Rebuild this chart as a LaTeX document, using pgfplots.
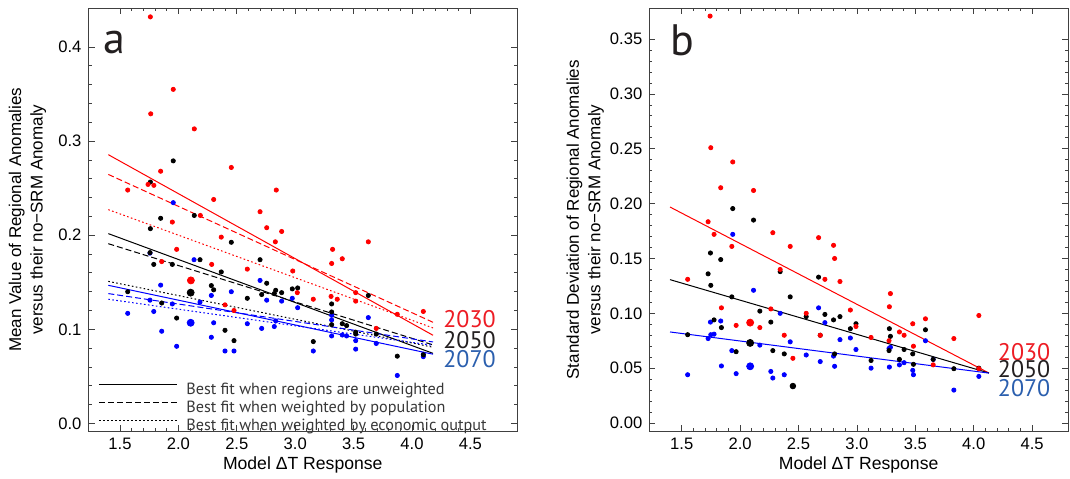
\documentclass[border=0pt]{standalone}
\usepackage{fontspec}
\setmainfont{Liberation Sans}
\newfontfamily\myriad{PT Sans}
\usepackage{pgfplots}
\pgfplotsset{compat=1.18}

\definecolor{yrred}{RGB}{237,28,36}
\definecolor{yrblack}{RGB}{35,31,32}
\definecolor{yrblue}{RGB}{43,95,174}

\tikzset{
  dsh/.style={dash pattern=on 3pt off 1.5pt},
  dtt/.style={dash pattern=on 0.8pt off 1.2pt},
  yr/.style={anchor=west, inner sep=0pt, font=\myriad\fontsize{12}{12}\selectfont},
}
\pgfplotsset{
  panel/.style={
    scale only axis, height=211.3pt,
    xtick={1.5,2,2.5,3,3.5,4,4.5},
    minor x tick num=4, minor y tick num=4,
    scaled x ticks=false, scaled y ticks=false,
    tick align=inside,
    major tick length=3pt, minor tick length=1.5pt,
    axis line style={black!75, line width=0.5pt},
    every tick/.style={black!75, line width=0.4pt},
    tick label style={font=\fontsize{8.3}{10}\selectfont},
    /pgf/number format/assume math mode=true,
    xticklabel style={/pgf/number format/.cd, fixed, fixed zerofill, precision=1},
    xlabel={Model ΔT Response},
    xlabel style={at={(axis description cs:0.5,-0.0805)}, anchor=center, font=\fontsize{8.8}{10}\selectfont},
    ylabel style={anchor=center, align=center, font=\fontsize{8.5}{10.8}\selectfont},
    clip=false,
  },
  rdot/.style={only marks, mark=*, mark size=1.05pt, color=red, mark options={draw=none}, forget plot},
  kdot/.style={only marks, mark=*, mark size=1.05pt, color=black, mark options={draw=none}, forget plot},
  bdot/.style={only marks, mark=*, mark size=1.05pt, color=blue, mark options={draw=none}, forget plot},
  fit/.style={line width=0.5pt, forget plot},
}

\begin{document}
\begin{tikzpicture}
% ---- panel a ----
\begin{axis}[panel, at={(44.25pt,23.5pt)}, anchor=south west,
    width=214.25pt,
    xmin=1.2303, xmax=4.899,
    ymin=-0.008, ymax=0.441,
    ytick={0,0.1,0.2,0.3,0.4},
    yticklabel style={/pgf/number format/.cd, fixed, fixed zerofill, precision=1},
    ylabel={Mean Value of Regional Anomalies\\versus their no−SRM Anomaly},
    ylabel style={at={(axis description cs:-0.1424,0.5)}},
    legend style={draw=none, fill=none, at={(rel axis cs:0.0222,0.1152)}, anchor=north west,
        font=\myriad\fontsize{8.1}{9}\selectfont, text=black!78, row sep=1.2pt, column sep=4.5pt,
        inner sep=0pt, nodes={inner sep=0pt, text height=6pt, text depth=1.8pt}},
    legend cell align=left,
    legend image code/.code={\draw[#1] (0pt,2.8pt) -- (39pt,2.8pt);},
]
\addlegendimage{black, line width=0.5pt}
\addlegendentry{Best fit when regions are unweighted}
\addlegendimage{black, line width=0.5pt, dsh}
\addlegendentry{Best fit when weighted by population}
\addlegendimage{black, line width=0.5pt, dtt}
\addlegendentry{Best fit when weighted by economic output}

\addplot[bdot] coordinates {
(1.956,0.2346) (1.757,0.181) (2.134,0.174) (1.848,0.147) (1.757,0.131) (1.789,0.119)
(1.948,0.127) (2.185,0.129) (1.566,0.117) (2.282,0.136) (2.453,0.140) (2.699,0.152)
(2.756,0.131) (2.884,0.130) (2.975,0.133) (3.021,0.123) (2.302,0.107) (1.857,0.098)
(1.985,0.082) (2.282,0.0916) (2.399,0.077) (2.476,0.077) (2.59,0.106) (2.713,0.101)
(2.821,0.103) (2.833,0.109) (3.155,0.077) (3.312,0.115) (3.312,0.110) (3.312,0.093)
(3.403,0.094) (3.44,0.093) (3.518,0.088) (3.518,0.079) (3.626,0.1125) (3.694,0.085)
(3.874,0.051) (4.097,0.071) (4.097,0.0735)};
\addplot[bdot, mark size=1.75pt] coordinates {(2.105,0.107)};

\addplot[kdot] coordinates {
(1.76,0.2565) (1.956,0.279) (1.848,0.218) (2.136,0.221) (1.76,0.207) (2.453,0.1925)
(1.757,0.1815) (1.789,0.169) (1.948,0.169) (2.185,0.174) (2.699,0.174) (2.367,0.161)
(2.282,0.1465) (2.302,0.142) (2.59,0.133) (2.713,0.137) (2.756,0.149) (2.833,0.1415)
(2.821,0.138) (2.884,0.139) (2.975,0.143) (3.021,0.144) (1.566,0.140) (1.857,0.128)
(1.985,0.112) (2.399,0.099) (2.476,0.088) (3.155,0.087) (3.312,0.127) (3.312,0.1185)
(3.312,0.105) (3.403,0.106) (3.44,0.104) (3.518,0.097) (3.518,0.095) (3.626,0.136)
(3.694,0.095) (3.874,0.0715) (4.097,0.073)};
\addplot[kdot, mark size=1.75pt] coordinates {(2.105,0.139)};

\addplot[rdot] coordinates {
(1.76,0.432) (1.956,0.355) (1.763,0.329) (2.136,0.313) (1.848,0.268) (2.453,0.272)
(1.74,0.254) (1.79,0.253) (1.566,0.248) (2.302,0.238) (2.838,0.248) (2.699,0.225)
(2.188,0.221) (1.948,0.214) (2.756,0.208) (2.884,0.204) (2.83,0.193) (1.985,0.185)
(2.367,0.198) (3.626,0.193) (3.32,0.185) (3.403,0.175) (1.857,0.172) (2.285,0.169)
(3.312,0.170) (2.59,0.164) (2.979,0.162) (3.018,0.139) (3.518,0.139) (3.155,0.132)
(3.307,0.135) (3.36,0.132) (3.518,0.130) (2.399,0.126) (2.476,0.120) (3.694,0.101)
(3.874,0.116) (4.097,0.119)};
\addplot[rdot, mark size=1.75pt] coordinates {(2.107,0.152)};

% fits
\addplot[fit, red] coordinates {(1.4,0.2856) (4.18,0.0937)};
\addplot[fit, red, dsh] coordinates {(1.4,0.2646) (4.18,0.1075)};
\addplot[fit, red, dtt] coordinates {(1.4,0.2272) (4.18,0.1015)};
\addplot[fit, black] coordinates {(1.4,0.2017) (4.18,0.0745)};
\addplot[fit, black, dsh] coordinates {(1.4,0.191) (4.18,0.0835)};
\addplot[fit, black, dtt] coordinates {(1.4,0.151) (4.18,0.081)};
\addplot[fit, blue] coordinates {(1.4,0.1468) (4.18,0.0736)};
\addplot[fit, blue, dsh] coordinates {(1.4,0.138) (4.18,0.0866)};
\addplot[fit, blue, dtt] coordinates {(1.4,0.132) (4.18,0.083)};

\node[anchor=base west, inner sep=0pt, font=\myriad\fontsize{22}{22}\selectfont, text=yrblack] at (axis cs:1.354,0.393) {a};
\node[yr, text=yrred] at (axis cs:4.265,0.1107) {2030};
\node[yr, text=yrblack] at (axis cs:4.265,0.0884) {2050};
\node[yr, text=yrblue] at (axis cs:4.265,0.0683) {2070};
\end{axis}

% ---- panel b ----
\begin{axis}[panel, at={(324.65pt,23.5pt)}, anchor=south west,
    width=209.35pt,
    xmin=1.2226, xmax=4.8074,
    ymin=-0.0073, ymax=0.378,
    ytick={0,0.05,0.1,0.15,0.2,0.25,0.3,0.35},
    yticklabel style={/pgf/number format/.cd, fixed, fixed zerofill, precision=2},
    ylabel={Standard Deviation of Regional Anomalies\\versus their no−SRM Anomaly},
    ylabel style={at={(axis description cs:-0.153,0.5)}},
]
\addplot[bdot] coordinates {
(1.937,0.172) (2.115,0.121) (1.726,0.077) (1.746,0.092) (1.749,0.0805) (1.777,0.081)
(1.834,0.093) (1.84,0.052) (1.929,0.066) (1.551,0.044) (1.966,0.045) (2.169,0.071)
(2.263,0.047) (2.28,0.041) (2.343,0.100) (2.378,0.044) (2.429,0.074) (2.452,0.0335)
(2.566,0.062) (2.672,0.105) (2.686,0.056) (2.726,0.0915) (2.8,0.061) (2.809,0.0517)
(2.855,0.076) (2.944,0.0775) (2.992,0.067) (3.121,0.050) (3.278,0.051) (3.287,0.069)
(3.275,0.068) (3.364,0.053) (3.404,0.055) (3.478,0.048) (3.484,0.044) (3.587,0.075)
(3.653,0.058) (3.83,0.030) (4.044,0.0425)};
\addplot[bdot, mark size=1.75pt] coordinates {(2.086,0.0517)};

\addplot[kdot] coordinates {
(1.937,0.1955) (2.115,0.185) (1.746,0.155) (1.834,0.149) (1.726,0.136) (1.749,0.1255)
(1.929,0.115) (1.777,0.094) (1.84,0.087) (1.551,0.0805) (1.966,0.065) (2.169,0.102)
(2.263,0.092) (2.28,0.066) (2.343,0.138) (2.378,0.063) (2.429,0.115) (2.566,0.097)
(2.672,0.133) (2.686,0.080) (2.726,0.099) (2.8,0.094) (2.809,0.063) (2.855,0.097)
(2.944,0.086) (2.992,0.0905) (3.121,0.057) (3.278,0.086) (3.287,0.079) (3.275,0.066)
(3.364,0.058) (3.404,0.067) (3.478,0.063) (3.484,0.0535) (3.587,0.085) (3.653,0.058)
(3.83,0.0495) (4.044,0.050)};
\addplot[kdot, mark size=1.75pt] coordinates {(2.086,0.073)};
\addplot[kdot, mark size=1.4pt] coordinates {(2.452,0.0337)};

\addplot[rdot] coordinates {
(1.743,0.371) (1.749,0.251) (1.937,0.238) (1.834,0.2145) (2.115,0.212) (1.726,0.1835)
(1.777,0.172) (1.929,0.161) (1.551,0.131) (1.84,0.105) (1.966,0.089) (2.169,0.087)
(2.263,0.104) (2.28,0.1735) (2.343,0.140) (2.429,0.161) (2.378,0.080) (2.452,0.059)
(2.566,0.100) (2.672,0.169) (2.686,0.080) (2.726,0.131) (2.8,0.162) (2.809,0.150)
(2.855,0.129) (2.944,0.103) (2.992,0.088) (3.121,0.078) (3.278,0.106) (3.287,0.118)
(3.275,0.075) (3.364,0.083) (3.404,0.080) (3.478,0.0905) (3.484,0.070) (3.587,0.095)
(3.653,0.053) (3.83,0.077) (4.044,0.098) (4.044,0.0495)};
\addplot[rdot, mark size=1.75pt] coordinates {(2.086,0.0915)};

\addplot[fit, red] coordinates {(1.4,0.1969) (4.13,0.0456)};
\addplot[fit, black] coordinates {(1.4,0.1307) (4.13,0.0456)};
\addplot[fit, blue] coordinates {(1.4,0.083) (4.13,0.0455)};

\node[anchor=base west, inner sep=0pt, font=\myriad\fontsize{22}{22}\selectfont, text=yrblack] at (axis cs:1.40,0.335) {b};
\node[yr, text=yrred] at (axis cs:4.204,0.0644) {2030};
\node[yr, text=yrblack] at (axis cs:4.204,0.049) {2050};
\node[yr, text=yrblue] at (axis cs:4.204,0.0316) {2070};
\end{axis}
\pgfresetboundingbox
\path[use as bounding box] (0,0) rectangle (535pt,239pt);
\end{tikzpicture}
\end{document}
